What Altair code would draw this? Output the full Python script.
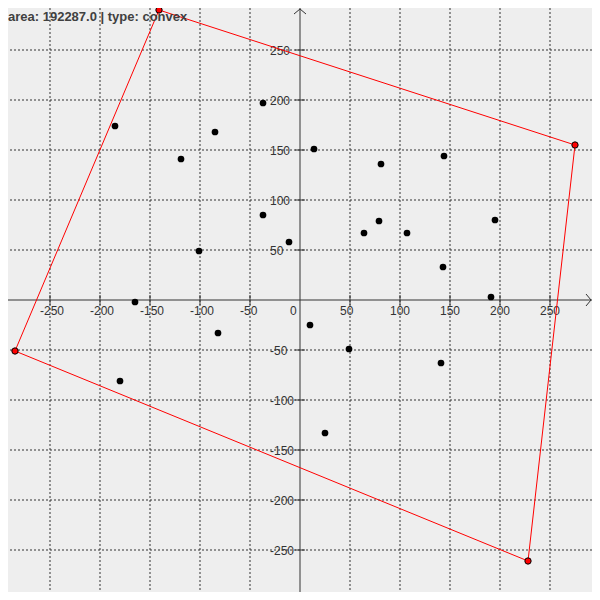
import altair as alt
import pandas as pd

# ---- data ----
title_text = "area: 192287.0 | type: convex"

pt_x = [-185, -37, -85, -119, 14, 81, 144, -37, -101, -11, 64, 79, 107, 195,
        143, 191, -165, -82, 10, 49, 141, -180, 25]
pt_y = [174, 197, 168, 141, 151, 136, 144, 85, 49, 58, 67, 79, 67, 80,
        33, 3, -2, -33, -25, -49, -63, -81, -133]

hull_x = [-141, 275, 228, -285]
hull_y = [290, 155, -261, -51]

grid_vals = [-250, -200, -150, -100, -50, 50, 100, 150, 200, 250]
x_label_vals = [-250, -200, -150, -100, -50, 0, 50, 100, 150, 200, 250]
y_label_vals = [-250, -200, -150, -100, -50, 50, 100, 150, 200, 250]

# ---- view geometry ----
LO, HI = -292, 292
W = H = 584
BG = "#eeeeee"
INK = "#333333"

xs = alt.Scale(domain=[LO, HI], nice=False, zero=False)
ys = alt.Scale(domain=[LO, HI], nice=False, zero=False)


def X(f, **kw):
    return alt.X(f, type="quantitative", scale=xs, axis=None, **kw)


def Y(f, **kw):
    return alt.Y(f, type="quantitative", scale=ys, axis=None, **kw)


grid_df = pd.DataFrame({"v": grid_vals})
vgrid = alt.Chart(grid_df).mark_rule(color=INK, strokeWidth=1, strokeDash=[2, 2]).encode(x=X("v"))
hgrid = alt.Chart(grid_df).mark_rule(color=INK, strokeWidth=1, strokeDash=[2, 2]).encode(y=Y("v"))

axis_df = pd.DataFrame({"v": [0]})
xaxis = alt.Chart(axis_df).mark_rule(color=INK, strokeWidth=1).encode(y=Y("v"))
yaxis = alt.Chart(axis_df).mark_rule(color=INK, strokeWidth=1).encode(x=X("v"))

tick_df = pd.DataFrame({"v": grid_vals, "a": [-5] * len(grid_vals), "b": [5] * len(grid_vals)})
xticks = alt.Chart(tick_df).mark_rule(color=INK, strokeWidth=1).encode(
    x=X("v"), y=Y("a"), y2=alt.Y2("b"))
yticks = alt.Chart(tick_df).mark_rule(color=INK, strokeWidth=1).encode(
    y=Y("v"), x=X("a"), x2=alt.X2("b"))

arrow_df = pd.DataFrame({
    "g": ["y", "y", "y", "x", "x", "x"],
    "o": [0, 1, 2, 0, 1, 2],
    "ax": [-6, 0, 6, 286, 291, 286],
    "ay": [286, 291, 286, 6, 0, -6],
})
arrows = alt.Chart(arrow_df).mark_line(color=INK, strokeWidth=1).encode(
    x=X("ax"), y=Y("ay"), detail="g:N", order="o:Q")

hull_df = pd.DataFrame({
    "hx": hull_x + [hull_x[0]],
    "hy": hull_y + [hull_y[0]],
    "o": list(range(len(hull_x) + 1)),
})
hull_line = alt.Chart(hull_df).mark_line(color="#ff0000", strokeWidth=1).encode(
    x=X("hx"), y=Y("hy"), order="o:Q")

pts_df = pd.DataFrame({"px": pt_x, "py": pt_y})
pts = alt.Chart(pts_df).mark_circle(color="black", size=45, opacity=1).encode(
    x=X("px"), y=Y("py"))

hull_pts_df = pd.DataFrame({"hx": hull_x, "hy": hull_y})
hull_pts = alt.Chart(hull_pts_df).mark_point(
    filled=True, fill="#ff0000", stroke="black", strokeWidth=1, size=40, opacity=1
).encode(x=X("hx"), y=Y("hy"))

xl_df = pd.DataFrame({"v": x_label_vals, "z": [0] * len(x_label_vals),
                      "t": [str(v) for v in x_label_vals]})
xlabels = alt.Chart(xl_df).mark_text(
    align="left", baseline="alphabetic", dx=-10, dy=15,
    font="Liberation Sans", fontSize=12, color=INK
).encode(x=X("v"), y=Y("z"), text="t:N")

yl_df = pd.DataFrame({"v": y_label_vals, "z": [0] * len(y_label_vals),
                      "t": [str(v) for v in y_label_vals]})
ylabels = alt.Chart(yl_df).mark_text(
    align="left", baseline="alphabetic", dx=-30, dy=5,
    font="Liberation Sans", fontSize=12, color=INK
).encode(y=Y("v"), x=X("z"), text="t:N")

title_df = pd.DataFrame({"t": [title_text]})
title = alt.Chart(title_df).mark_text(
    align="left", baseline="alphabetic", font="Liberation Sans",
    fontSize=13, fontWeight="bold", color="#404040"
).encode(x=alt.value(0), y=alt.value(13), text="t:N")

chart = alt.layer(
    vgrid, hgrid, xaxis, yaxis, xticks, yticks, arrows,
    xlabels, ylabels, hull_line, pts, hull_pts, title
).properties(
    width=W, height=H,
    autosize=alt.AutoSizeParams(type="none"),
    padding=0,
    background=BG,
).configure_view(stroke=None, fill=BG)

chart.save("out.html", embed_options={"renderer": "svg", "actions": False})
